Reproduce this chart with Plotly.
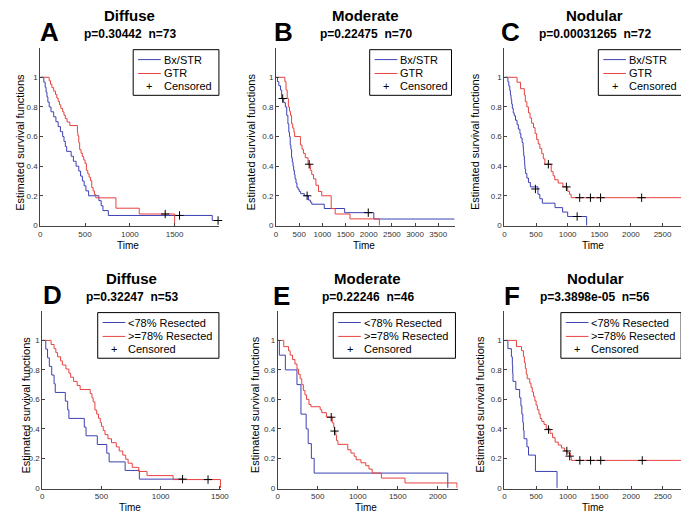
import plotly.graph_objects as go

W, H = 689, 512

# ---------------- data ----------------
A_blue_t = [0, 40, 55, 65, 75, 85, 100, 120, 150, 175, 200, 225, 250, 265, 280, 295, 345, 370, 400, 430, 450, 470, 490, 510, 540, 655, 680, 700, 760, 1920, 1985]
A_blue_s = [1, 0.967, 0.933, 0.9, 0.867, 0.833, 0.8, 0.767, 0.733, 0.7, 0.667, 0.633, 0.6, 0.567, 0.533, 0.5, 0.467, 0.433, 0.4, 0.367, 0.333, 0.3, 0.267, 0.233, 0.2, 0.167, 0.133, 0.1, 0.067, 0.033, 0.033]
A_red_t = [0, 100, 115, 130, 150, 170, 185, 200, 215, 230, 250, 265, 280, 300, 330, 415, 420, 430, 440, 455, 470, 485, 500, 515, 530, 545, 560, 575, 590, 605, 620, 845, 1105, 1500]
A_red_s = [1, 0.977, 0.953, 0.93, 0.907, 0.884, 0.86, 0.837, 0.814, 0.79, 0.767, 0.744, 0.721, 0.698, 0.674, 0.628, 0.605, 0.558, 0.512, 0.488, 0.465, 0.442, 0.419, 0.372, 0.349, 0.326, 0.302, 0.256, 0.233, 0.209, 0.186, 0.116, 0.077, 0]
A_cens_t = [1395, 1555, 1985]
A_cens_s = [0.077, 0.067, 0.033]

B_blue_t = [0, 30, 60, 95, 120, 165, 200, 230, 255, 275, 290, 305, 320, 335, 350, 365, 380, 395, 410, 430, 450, 475, 500, 530, 560, 610, 700, 740, 770, 1040, 1480, 2110, 3850]
B_blue_s = [1, 0.971, 0.943, 0.914, 0.857, 0.829, 0.8, 0.743, 0.686, 0.629, 0.6, 0.543, 0.514, 0.457, 0.429, 0.4, 0.371, 0.343, 0.314, 0.286, 0.257, 0.243, 0.229, 0.214, 0.214, 0.2, 0.171, 0.157, 0.143, 0.114, 0.086, 0.043, 0.043]
B_red_t = [0, 190, 215, 240, 265, 290, 310, 335, 360, 385, 400, 525, 560, 590, 630, 690, 740, 770, 810, 860, 915, 985, 1190, 1275, 1595, 2230]
B_red_s = [1, 0.971, 0.914, 0.857, 0.8, 0.771, 0.743, 0.686, 0.657, 0.629, 0.6, 0.543, 0.514, 0.486, 0.457, 0.413, 0.371, 0.343, 0.314, 0.271, 0.229, 0.2, 0.114, 0.077, 0.044, 0]
B_cens_t = [143, 670, 715, 1990]
B_cens_s = [0.857, 0.2, 0.413, 0.086]

C_blue_t = [0, 55, 70, 85, 95, 105, 115, 125, 140, 155, 175, 200, 220, 245, 260, 280, 295, 300, 305, 315, 320, 325, 335, 355, 380, 410, 530, 560, 600, 800, 920, 1000, 1300]
C_blue_s = [1, 0.97, 0.94, 0.91, 0.88, 0.85, 0.82, 0.79, 0.76, 0.74, 0.71, 0.68, 0.65, 0.62, 0.59, 0.56, 0.53, 0.5, 0.47, 0.44, 0.41, 0.38, 0.35, 0.32, 0.29, 0.26, 0.21, 0.18, 0.15, 0.12, 0.09, 0.06, 0]
C_red_t = [0, 200, 255, 315, 330, 355, 380, 405, 430, 460, 485, 510, 535, 560, 590, 615, 640, 740, 770, 795, 850, 925, 1000, 1030, 1055, 2845]
C_red_s = [1, 0.967, 0.923, 0.88, 0.835, 0.8, 0.76, 0.725, 0.69, 0.66, 0.62, 0.58, 0.55, 0.52, 0.485, 0.45, 0.413, 0.363, 0.335, 0.308, 0.286, 0.26, 0.23, 0.21, 0.187, 0]
C_cens_t = [490, 1150, 695, 980, 1190, 1360, 1520, 2170]
C_cens_s = [0.246, 0.06, 0.413, 0.26, 0.187, 0.187, 0.187, 0.187]

D_blue_t = [0, 30, 45, 60, 80, 100, 110, 195, 215, 225, 355, 370, 465, 545, 565, 700, 820, 1190]
D_blue_s = [1, 0.941, 0.882, 0.824, 0.765, 0.706, 0.647, 0.588, 0.529, 0.471, 0.412, 0.353, 0.294, 0.235, 0.176, 0.118, 0.059, 0.059]
D_red_t = [0, 75, 100, 115, 130, 155, 170, 200, 225, 240, 265, 295, 320, 405, 420, 430, 445, 460, 475, 490, 500, 515, 530, 555, 585, 625, 650, 680, 705, 725, 760, 815, 885, 1105, 1505]
D_red_s = [1, 0.972, 0.944, 0.917, 0.889, 0.861, 0.833, 0.806, 0.778, 0.75, 0.722, 0.694, 0.667, 0.639, 0.611, 0.583, 0.528, 0.5, 0.472, 0.444, 0.417, 0.389, 0.361, 0.333, 0.306, 0.278, 0.25, 0.222, 0.194, 0.167, 0.139, 0.111, 0.083, 0.056, 0]
D_cens_t = [1185, 1400]
D_cens_s = [0.059, 0.056]

E_blue_t = [0, 20, 95, 240, 290, 355, 380, 420, 455, 2125]
E_blue_s = [1, 0.9, 0.8, 0.7, 0.5, 0.4, 0.3, 0.2, 0.1, 0]
E_red_t = [0, 75, 135, 155, 185, 215, 240, 260, 280, 300, 320, 340, 360, 390, 415, 530, 550, 608, 682, 700, 712, 725, 735, 752, 875, 915, 955, 980, 1040, 1100, 1140, 1180, 1295, 1590, 2240]
E_red_s = [1, 0.958, 0.93, 0.9, 0.87, 0.84, 0.805, 0.77, 0.74, 0.7, 0.66, 0.63, 0.6, 0.565, 0.55, 0.53, 0.51, 0.48, 0.44, 0.41, 0.385, 0.357, 0.32, 0.295, 0.258, 0.236, 0.214, 0.19, 0.17, 0.15, 0.127, 0.1, 0.066, 0.033, 0]
E_cens_t = [668, 710]
E_cens_s = [0.479, 0.385]

F_blue_t = [0, 55, 110, 125, 130, 135, 180, 240, 260, 275, 290, 300, 310, 355, 380, 490, 830]
F_blue_s = [1, 0.944, 0.889, 0.833, 0.778, 0.722, 0.667, 0.611, 0.556, 0.5, 0.444, 0.389, 0.333, 0.278, 0.222, 0.111, 0]
F_red_t = [0, 190, 270, 300, 315, 330, 345, 360, 400, 420, 440, 460, 480, 500, 520, 545, 565, 590, 625, 660, 720, 760, 800, 850, 900, 950, 990, 1040, 1055, 2850]
F_red_s = [1, 0.958, 0.93, 0.89, 0.85, 0.81, 0.77, 0.74, 0.71, 0.68, 0.65, 0.62, 0.59, 0.56, 0.53, 0.5, 0.47, 0.45, 0.43, 0.4, 0.37, 0.34, 0.31, 0.29, 0.27, 0.25, 0.236, 0.21, 0.186, 0]
F_cens_t = [695, 985, 1030, 1190, 1360, 1520, 2175]
F_cens_s = [0.395, 0.25, 0.215, 0.186, 0.186, 0.186, 0.186]

letters = ["A", "B", "C", "D", "E", "F"]
subtypes = ["Diffuse", "Moderate", "Nodular", "Diffuse", "Moderate", "Nodular"]
stats = ["p=0.30442  n=73", "p=0.22475  n=70", "p=0.00031265  n=72",
         "p=0.32247  n=53", "p=0.22246  n=46", "p=3.3898e-05  n=56"]
legend_top = ["Bx/STR", "GTR", "Censored"]
legend_bottom = ["<78% Resected", ">=78% Resected", "Censored"]
x_max = [1990, 3850, 2845, 1505, 2240, 2850]
x_ticks = [[0, 500, 1000, 1500],
           [0, 500, 1000, 1500, 2000, 2500, 3000, 3500],
           [0, 500, 1000, 1500, 2000, 2500],
           [0, 500, 1000, 1500],
           [0, 500, 1000, 1500, 2000],
           [0, 500, 1000, 1500, 2000, 2500]]
y_ticks = [0, 0.2, 0.4, 0.6, 0.8, 1]
y_ticktext = ["0", "0.2", "0.4", "0.6", "0.8", "1"]

blue_t = [A_blue_t, B_blue_t, C_blue_t, D_blue_t, E_blue_t, F_blue_t]
blue_s = [A_blue_s, B_blue_s, C_blue_s, D_blue_s, E_blue_s, F_blue_s]
red_t = [A_red_t, B_red_t, C_red_t, D_red_t, E_red_t, F_red_t]
red_s = [A_red_s, B_red_s, C_red_s, D_red_s, E_red_s, F_red_s]
cens_t = [A_cens_t, B_cens_t, C_cens_t, D_cens_t, E_cens_t, F_cens_t]
cens_s = [A_cens_s, B_cens_s, C_cens_s, D_cens_s, E_cens_s, F_cens_s]

# ---------------- layout geometry (pixels) ----------------
def px(x):
    return x / W

def py(y):
    return 1 - y / H

axes_px = [(30.7, 212.3, 40, 220), (270, 451.7, 40, 220), (501.7, 685, 40, 220),
           (32.7, 214.3, 305.3, 484.5), (271.7, 454.3, 305.3, 484.5), (501.7, 685.7, 305.3, 484.5)]
letter_pos = [(40, 24), (278, 24), (508, 24), (43, 289), (275, 290), (509, 290)]
ylabel_x = [10, 245, 472, 16, 248, 477]
time_y = [239.5, 239.5, 239.5, 503.5, 503.5, 503.5]
legend_box = [(125, 42, 212, 88), (365, 42, 448, 88), (597, 42, 686, 88),
              (89, 307, 212, 353), (328, 307, 452, 353), (559, 307, 681, 353)]

BLUE = "#3c40b4"
RED = "#e8423f"
FONT = "Liberation Sans, Arial, sans-serif"

fig = go.Figure()
layout = dict(width=W, height=H, margin=dict(l=0, r=0, t=0, b=0),
              paper_bgcolor="white", plot_bgcolor="white", showlegend=False,
              font=dict(family=FONT, color="black"))
annotations = []
shapes = []

for i in range(6):
    k = i + 1
    xs = "" if k == 1 else str(k)
    x0, x1, y0, y1 = axes_px[i]
    layout["xaxis" + xs] = dict(
        domain=[px(x0), px(x1)], anchor="y" + xs, range=[0, x_max[i] * 1.004],
        tickvals=x_ticks[i], ticks="inside", ticklen=3, tickcolor="#444",
        showline=True, linecolor="#444", linewidth=1, showgrid=False, zeroline=False,
        tickfont=dict(size=8, color="#333"), fixedrange=True)
    layout["yaxis" + xs] = dict(
        domain=[py(y1), py(y0)], anchor="x" + xs, range=[-0.006, 1.2],
        tickvals=y_ticks, ticktext=y_ticktext, ticks="inside", ticklen=3, tickcolor="#444",
        showline=True, linecolor="#444", linewidth=1, showgrid=False, zeroline=False,
        tickfont=dict(size=8, color="#333"), fixedrange=True)

    fig.add_trace(go.Scatter(x=blue_t[i], y=blue_s[i], mode="lines", line_shape="hv",
                             line=dict(color=BLUE, width=1), xaxis="x" + xs, yaxis="y" + xs,
                             name=(legend_top if i < 3 else legend_bottom)[0]))
    fig.add_trace(go.Scatter(x=red_t[i], y=red_s[i], mode="lines", line_shape="hv",
                             line=dict(color=RED, width=1), xaxis="x" + xs, yaxis="y" + xs,
                             name=(legend_top if i < 3 else legend_bottom)[1]))
    fig.add_trace(go.Scatter(x=cens_t[i], y=cens_s[i], mode="markers", cliponaxis=False,
                             marker=dict(symbol="cross-thin", size=6,
                                         line=dict(color="black", width=1)),
                             xaxis="x" + xs, yaxis="y" + xs, name="Censored"))

    cx = (x0 + x1) / 2
    top = 0 if i < 3 else 264.5
    lx, ly = letter_pos[i]
    annotations.append(dict(x=px(lx), y=py(ly), xref="paper", yref="paper", showarrow=False,
                            text="<b>%s</b>" % letters[i], xanchor="center", yanchor="middle",
                            font=dict(size=26, family=FONT)))
    annotations.append(dict(x=px(cx), y=py(top + 8), xref="paper", yref="paper", showarrow=False,
                            text="<b>%s</b>" % subtypes[i], xanchor="center", yanchor="middle",
                            font=dict(size=15, family=FONT)))
    annotations.append(dict(x=px(cx), y=py(top + 26.5), xref="paper", yref="paper", showarrow=False,
                            text="<b>%s</b>" % stats[i], xanchor="center", yanchor="middle",
                            font=dict(size=12, family=FONT)))
    annotations.append(dict(x=px(cx - 2), y=py(time_y[i]), xref="paper", yref="paper", showarrow=False,
                            text="Time", xanchor="center", yanchor="middle",
                            font=dict(size=10, family=FONT)))
    annotations.append(dict(x=px(ylabel_x[i]), y=py((y0 + y1) / 2 + 5), xref="paper", yref="paper",
                            showarrow=False, text="Estimated survival functions", textangle=-90,
                            xanchor="center", yanchor="middle", font=dict(size=11, family=FONT)))

    # legend box
    bx0, by0, bx1, by1 = legend_box[i]
    shapes.append(dict(type="rect", xref="paper", yref="paper", x0=px(bx0), x1=px(bx1),
                       y0=py(by1), y1=py(by0), line=dict(color="black", width=1),
                       fillcolor="white", layer="above"))
    labels = legend_top if i < 3 else legend_bottom
    rows = [by0 + 10, by0 + 24, by0 + 37]
    for r, (lab, col) in enumerate(zip(labels, [BLUE, RED, None])):
        if col is not None:
            shapes.append(dict(type="line", xref="paper", yref="paper", x0=px(bx0 + 5),
                               x1=px(bx0 + 28), y0=py(rows[r]), y1=py(rows[r]),
                               line=dict(color=col, width=1), layer="above"))
        else:
            annotations.append(dict(x=px(bx0 + 16.5), y=py(rows[r]), xref="paper", yref="paper",
                                    showarrow=False, text="+", xanchor="center", yanchor="middle",
                                    font=dict(size=11, family=FONT)))
        annotations.append(dict(x=px(bx0 + 29), y=py(rows[r]), xref="paper", yref="paper",
                                showarrow=False, text=lab, xanchor="left", yanchor="middle",
                                font=dict(size=11, family=FONT)))

layout["annotations"] = annotations
layout["shapes"] = shapes
fig.update_layout(**layout)
fig.write_html("out.html")
